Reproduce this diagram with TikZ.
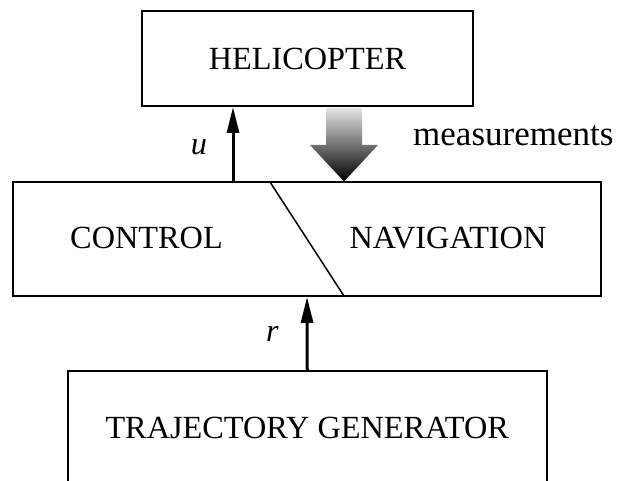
\documentclass[tikz,border=0pt]{standalone}
\usepackage{fontspec}
\setmainfont{Liberation Serif}
\usetikzlibrary{arrows.meta}
\tikzset{
  blockbox/.style={draw, line width=2pt, inner sep=0pt, font=\fontsize{32.3}{38}\selectfont},
  plaintext/.style={inner sep=0pt, font=\fontsize{32.3}{38}\selectfont},
  sigarrow/.style={line width=3pt, -{Triangle[length=26pt,width=12pt]}},
  divider/.style={line width=1.5pt},
}
\begin{document}
\begin{tikzpicture}[x=1pt,y=-1pt]
\useasboundingbox (0,0) rectangle (621,481);
\clip (0,0) rectangle (621,481);
% blocks
\node[blockbox, minimum width=331pt, minimum height=95pt] (heli) at (307.5,58.5) {HELICOPTER};
\node[blockbox, minimum width=588pt, minimum height=114pt] (mid) at (307,239) {};
\node[blockbox, minimum width=478.5pt, minimum height=114pt] (traj) at (307.25,428) {TRAJECTORY GENERATOR};
% texts inside the middle block
\node[plaintext] (ctrl) at (146.5,238) {CONTROL};
\node[plaintext] (nav) at (448,238) {NAVIGATION};
% divider
\coordinate (d1) at (270,182);
\coordinate (d2) at (344,296);
\draw[divider] (d1) -- (d2);
% control signal u
\coordinate (ux) at (233,0);
\draw[sigarrow] (mid.north -| ux) -- (heli.south -| ux);
\node[plaintext] (ulab) at (199,147) {\textit{u}};
% reference r
\draw[sigarrow] (traj.north) -- (mid.south);
\node[plaintext] (rlab) at (272.5,334) {\textit{r}};
% measurements shaded arrow
\path[top color={rgb,255:red,228;green,228;blue,228}, bottom color=black]
  (326,108) -- (362,108) -- (362,145) -- (378,145) -- (344,181.5) -- (310,145) -- (326,145) -- cycle;
\node[plaintext, anchor=base west, font=\fontsize{35}{41}\selectfont] (meas) at (413,146) {measurements};
\end{tikzpicture}
\end{document}
